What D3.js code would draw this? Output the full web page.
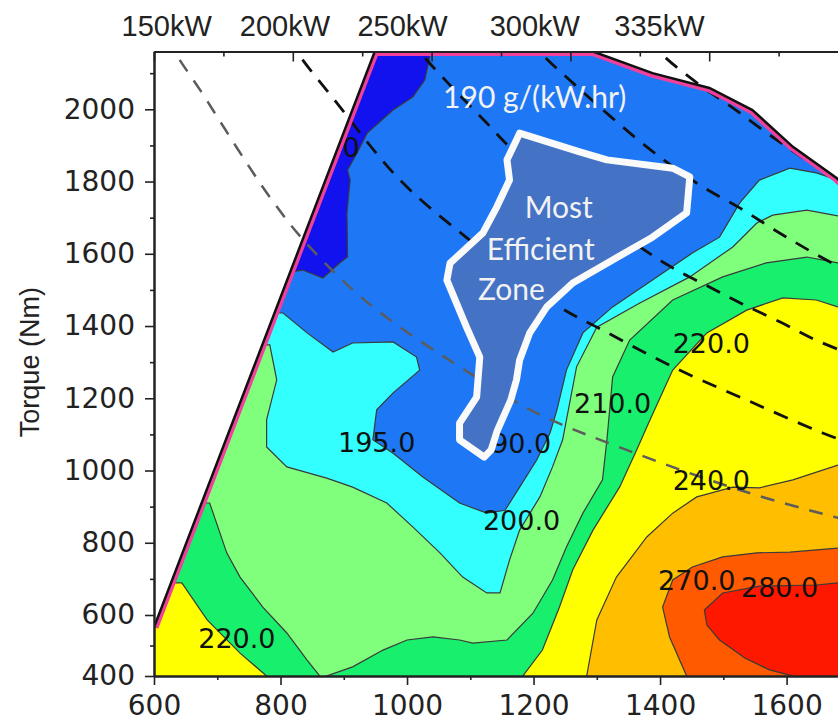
<!DOCTYPE html>
<html lang="en">
<head>
  <meta charset="UTF-8">
  <title>BSFC Map</title>
  <script src="https://d3js.org/d3.v7.min.js"></script>
  <style>
    body { margin: 0; background: #fff; }
    svg { display: block; }
    .axis text { font-family: "DejaVu Sans", sans-serif; font-size: 28px; fill: #222; }
    .axis path, .axis line { stroke: #222; }
    .axis path.domain { stroke-width: 2; }
    .axis line { stroke-width: 1.6; }
    .clabel { font-family: "DejaVu Sans", sans-serif; font-size: 27px; fill: #111; }
    .wlabel { font-family: Lato, "Open Sans", sans-serif; font-size: 30px; fill: #f2f2f2; }
  </style>
</head>
<body>
<div class="main"></div>
<script>

  // axis ticks
  var xMajor = [600, 800, 1000, 1200, 1400, 1600];
  var xMinor = [700, 900, 1100, 1300, 1500, 1700];
  var yMajor = [400, 600, 800, 1000, 1200, 1400, 1600, 1800, 2000];
  var yMinor = [500, 700, 900, 1100, 1300, 1500, 1700, 1900, 2100];
  var topTicks = [0, 1, 2, 3, 4, 5, 6, 7, 8, 9, 10];

  // power labels on top, placed at engine speed (rpm)
  var kwLabels = ["150kW", "200kW", "250kW", "300kW", "335kW"];
  var kwRpm = [620, 807, 993, 1202, 1399];

  // [rpm, Nm] points
  var maxTorque = [[600, 560], [949, 2160], [1294, 2160], [1388, 2100], [1478, 2059], [1546, 1998],
    [1610, 1896], [1679, 1810], [1750, 1690], [1800, 1600]];

  var below190 = [[780, 2200], [1036, 2200], [1036, 2145], [1028, 2081], [1009, 2034], [978, 1998],
    [937, 1934], [921, 1879], [906, 1832], [910, 1804], [905, 1713], [906, 1591], [894, 1575],
    [867, 1533], [835, 1555], [780, 1540]];

  var above195 = [[560, 1436], [804, 1436], [842, 1381], [883, 1328], [914, 1353], [978, 1356],
    [1015, 1314], [1020, 1278], [978, 1215], [952, 1168], [946, 1085], [978, 1048], [1025, 982],
    [1083, 910], [1126, 882], [1155, 890], [1178, 954], [1205, 1029], [1226, 1104], [1237, 1168],
    [1252, 1278], [1278, 1381], [1325, 1453], [1395, 1536], [1451, 1602], [1494, 1646], [1526, 1741],
    [1557, 1804], [1605, 1837], [1647, 1824], [1681, 1804], [1800, 1790], [1800, 380], [560, 380]];

  var above200 = [[560, 1348], [783, 1348], [794, 1251], [778, 1140], [778, 1065], [810, 1010],
    [873, 979], [914, 954], [968, 910], [1009, 844], [1052, 772], [1088, 705], [1126, 661],
    [1147, 661], [1162, 752], [1178, 835], [1210, 927], [1230, 1010], [1246, 1085], [1252, 1140],
    [1268, 1287], [1300, 1397], [1368, 1464], [1447, 1536], [1515, 1619], [1553, 1685], [1578, 1707],
    [1632, 1721], [1681, 1705], [1800, 1690], [1800, 380], [560, 380]];

  var above210a = [[560, 910], [688, 910], [715, 772], [736, 705], [772, 622], [810, 541],
    [842, 452], [862, 400], [862, 380], [560, 380]];

  var above210b = [[873, 380], [873, 400], [914, 430], [962, 485], [1000, 518], [1041, 528],
    [1083, 518], [1104, 508], [1158, 518], [1199, 605], [1230, 697], [1252, 788], [1278, 882],
    [1309, 974], [1316, 1085], [1325, 1259], [1352, 1361], [1420, 1472], [1499, 1536], [1568, 1575],
    [1632, 1591], [1681, 1575], [1800, 1560], [1800, 380]];

  var above220a = [[560, 689], [644, 689], [684, 584], [736, 475], [778, 400], [778, 380], [560, 380]];

  var above220b = [[1183, 380], [1183, 400], [1214, 485], [1241, 622], [1262, 725], [1294, 835],
    [1336, 954], [1363, 1057], [1384, 1140], [1420, 1278], [1474, 1381], [1537, 1444], [1594, 1478],
    [1647, 1472], [1681, 1453], [1800, 1430], [1800, 380]];

  var above240 = [[1284, 380], [1284, 400], [1300, 584], [1331, 705], [1379, 816], [1420, 882],
    [1458, 927], [1515, 954], [1557, 952], [1610, 974], [1681, 1015], [1800, 1040], [1800, 380]];

  var above270 = [[1442, 380], [1442, 400], [1415, 528], [1404, 622], [1420, 697], [1451, 733],
    [1499, 761], [1553, 772], [1605, 774], [1681, 785], [1800, 790], [1800, 380]];

  var above280 = [[1610, 380], [1610, 400], [1573, 420], [1534, 459], [1494, 518], [1474, 567],
    [1470, 614], [1499, 661], [1557, 680], [1647, 683], [1681, 689], [1800, 690], [1800, 380]];

  var bestZone = [[1178, 1934], [1273, 1882], [1316, 1860], [1420, 1837], [1447, 1813], [1442, 1713],
    [1388, 1646], [1325, 1583], [1262, 1519], [1221, 1453], [1194, 1381], [1178, 1306], [1173, 1251],
    [1164, 1195], [1143, 1112], [1133, 1057], [1122, 1037], [1083, 1085], [1083, 1131], [1110, 1203],
    [1115, 1314], [1094, 1397], [1063, 1527], [1068, 1574], [1120, 1658], [1142, 1730], [1162, 1804],
    [1158, 1860], [1173, 1915]];

  // constant power lines
  var p150 = [[625, 2200], [633, 2160], [673, 2053], [783, 1757], [846, 1619], [946, 1453], [1104, 1264],
    [1205, 1159], [1347, 1057], [1526, 946], [1681, 869], [1750, 840]];
  var p200 = [[815, 2200], [826, 2160], [883, 2031], [989, 1804], [1099, 1638], [1241, 1453], [1309, 1389],
    [1420, 1287], [1537, 1195], [1657, 1104], [1750, 1045]];
  var p250 = [[1005, 2200], [1020, 2160], [1063, 2076], [1126, 1962], [1162, 1896], [1270, 1740],
    [1368, 1619], [1418, 1563], [1478, 1508], [1530, 1461], [1590, 1411], [1649, 1359], [1750, 1290]];
  var p300 = [[1195, 2200], [1210, 2160], [1257, 2081], [1379, 1896], [1463, 1790], [1526, 1727],
    [1581, 1666], [1640, 1605], [1750, 1500]];
  var p335 = [[1385, 2200], [1399, 2160], [1463, 2067], [1515, 2004], [1562, 1943], [1617, 1876],
    [1679, 1804], [1750, 1720]];

  // contour labels: text and [rpm, Nm] anchor
  var contourText = ["195.0", "200.0", "210.0", "220.0", "240.0", "270.0", "280.0", "220.0"];
  var contourAt = [[952, 1051], [1181, 835], [1325, 1159], [1481, 1325], [1481, 946], [1458, 669], [1589, 650], [731, 492]];
  // labels partly hidden (end anchored)
  var hiddenText = ["190.0", "190.0"];
  var hiddenAt = [[1228, 1048], [925, 1868]];

  var zoneText = ["190 g/(kW.hr)", "Most", "Efficient", "Zone"];
  var zoneAt = [[1057, 2004], [1186, 1699], [1126, 1583], [1112, 1472]];

  let width = 838, height = 723;

  let xScale = d3.scaleLinear().domain([600, 1800]).range([154, 913.1]);
  let yScale = d3.scaleLinear().domain([400, 600, 2160]).range([676, 615, 51.5]);

  let line = d3.line().x(d => xScale(d[0])).y(d => yScale(d[1]));
  let closed = d3.line().x(d => xScale(d[0])).y(d => yScale(d[1])).curve(d3.curveLinearClosed);
  let smooth = d3.line().x(d => xScale(d[0])).y(d => yScale(d[1])).curve(d3.curveCatmullRom);

  let svg = d3.select(".main").append("svg")
          .attr("width", width)
          .attr("height", height);

  let region = [[600, 400]].concat(maxTorque, [[1800, 400]]);

  let defs = svg.append("defs");
  defs.append("clipPath").attr("id", "region").append("path").attr("d", closed(region));
  defs.append("clipPath").attr("id", "plot").append("rect")
          .attr("x", xScale(600)).attr("y", yScale(2160))
          .attr("width", xScale(1800) - xScale(600)).attr("height", yScale(400) - yScale(2160));

  // base colour of the operating area
  svg.append("path").attr("d", closed(region)).style("fill", "#1e78f5");

  let bands = [
    [below190, "#1212ee"],
    [above195, "#33ffff"],
    [above200, "#80ff7c"],
    [above210a, "#18ef6c"],
    [above210b, "#18ef6c"],
    [above220a, "#ffff00"],
    [above220b, "#ffff00"],
    [above240, "#ffbf00"],
    [above270, "#ff5a00"],
    [above280, "#ff1800"]
  ];

  let bandG = svg.append("g").attr("clip-path", "url(#region)");
  bandG.selectAll("path")
          .data(bands)
          .join("path")
          .attr("d", d => closed(d[0]))
          .style("fill", d => d[1])
          .style("stroke", "#3a3a3a")
          .style("stroke-width", 1.2);

  // power lines
  let powerG = svg.append("g").attr("clip-path", "url(#plot)");
  powerG.append("path").attr("d", smooth(p150))
          .style("fill", "none").style("stroke", "#5c5c5c").style("stroke-width", 2.5).style("stroke-dasharray", "14,11");
  [p200, p250, p300, p335].forEach(function (p) {
    powerG.append("path").attr("d", smooth(p))
            .style("fill", "none").style("stroke", "#111").style("stroke-width", 2.8).style("stroke-dasharray", "15,11");
  });

  // contour labels
  let labG = svg.append("g").attr("clip-path", "url(#region)");
  for (let i = 0; i < contourText.length; i++) {
    labG.append("text").attr("class", "clabel")
            .attr("x", xScale(contourAt[i][0])).attr("y", yScale(contourAt[i][1]))
            .attr("text-anchor", "middle").text(contourText[i]);
  }
  for (let i = 0; i < hiddenText.length; i++) {
    labG.append("text").attr("class", "clabel")
            .attr("x", xScale(hiddenAt[i][0])).attr("y", yScale(hiddenAt[i][1]))
            .attr("text-anchor", "end").text(hiddenText[i]);
  }

  // full load line: pink inside, black on top
  svg.append("path").attr("d", line(maxTorque)).attr("clip-path", "url(#region)")
          .style("fill", "none").style("stroke", "#f0409c").style("stroke-width", 9);
  svg.append("path").attr("d", line(maxTorque)).attr("clip-path", "url(#plot)")
          .style("fill", "none").style("stroke", "#111").style("stroke-width", 2.5);

  // most efficient zone
  svg.append("path").attr("d", closed(bestZone))
          .style("fill", "#4472c4").style("stroke", "#fafafa")
          .style("stroke-width", 7).style("stroke-linejoin", "round");

  for (let i = 0; i < zoneText.length; i++) {
    svg.append("text").attr("class", "wlabel")
            .attr("x", xScale(zoneAt[i][0])).attr("y", yScale(zoneAt[i][1]))
            .text(zoneText[i]);
  }

  // axes
  function draw(axis, translate, cls) {
    return svg.append("g").attr("transform", translate).attr("class", cls).call(axis);
  }

  let x0 = xScale(600), yb = yScale(400), yt = yScale(2160);
  let fmt = d3.format("d");

  draw(d3.axisLeft(yScale).tickValues(yMinor).tickSize(4).tickSizeOuter(0).tickFormat(""), `translate(${x0},0)`, "axis");
  draw(d3.axisLeft(yScale).tickValues(yMajor).tickSize(9).tickPadding(10).tickSizeOuter(0).tickFormat(fmt), `translate(${x0},0)`, "axis");

  draw(d3.axisBottom(xScale).tickValues(xMinor).tickSize(4).tickSizeOuter(0).tickFormat(""), `translate(0,${yb})`, "axis");
  draw(d3.axisBottom(xScale).tickValues(xMajor).tickSize(9).tickPadding(10).tickSizeOuter(0).tickFormat(fmt), `translate(0,${yb})`, "axis");

  let topScale = d3.scaleLinear().domain([0, 11]).range([x0, x0 + 11 * 69.4]);
  draw(d3.axisTop(topScale).tickValues(topTicks.filter(t => t % 2 == 1)).tickSize(-5).tickSizeOuter(0).tickFormat(""), `translate(0,${yt})`, "axis");
  draw(d3.axisTop(topScale).tickValues(topTicks.filter(t => t % 2 == 0)).tickSize(-10).tickSizeOuter(0).tickFormat(""), `translate(0,${yt})`, "axis");

  // kW labels above the plot
  svg.selectAll(".kw")
          .data(kwLabels)
          .join("text")
          .attr("class", "kw")
          .attr("x", (d, i) => xScale(kwRpm[i]))
          .attr("y", yt - 16)
          .attr("text-anchor", "middle")
          .style("font-family", "'Liberation Sans', Arial, sans-serif")
          .style("font-size", "29px")
          .style("fill", "#222")
          .text(d => d);

  svg.append("text")
          .attr("transform", `translate(30, ${yScale(1300)}) rotate(-90)`)
          .attr("text-anchor", "middle")
          .attr("dominant-baseline", "central")
          .style("font-family", "'Liberation Sans', Arial, sans-serif")
          .style("font-size", "27px")
          .style("fill", "#222")
          .text("Torque (Nm)");

</script>
</body>
</html>
